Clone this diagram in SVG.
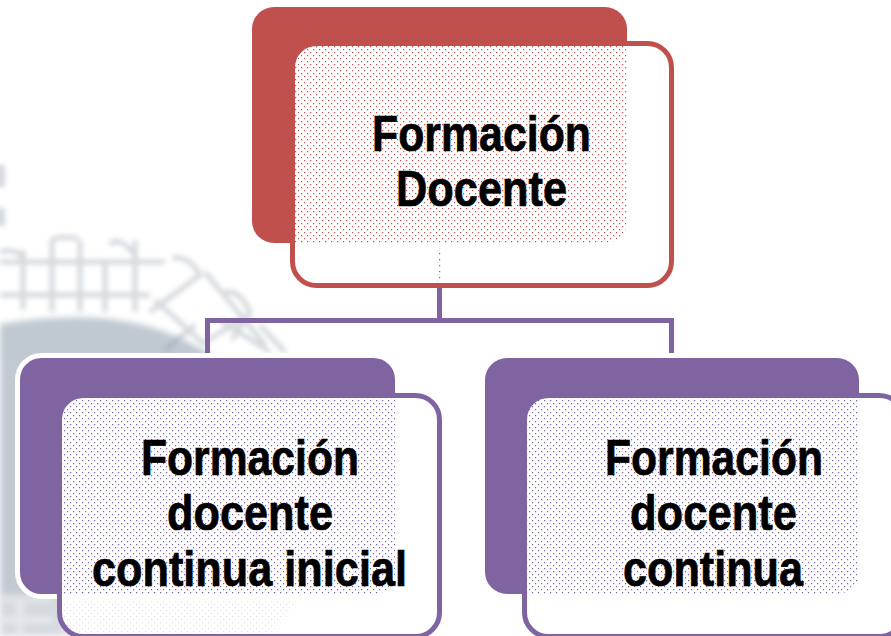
<svg xmlns="http://www.w3.org/2000/svg" width="891" height="636" viewBox="0 0 891 636">
  <style>
    .back-red{fill:#C0504D}
    .back-pur{fill:#8064A2}
    .face{fill:url(#holes)}
    .frame{fill:none;stroke-width:5}
    .red{stroke:#C0504D}
    .pur{stroke:#8064A2}
    .conn{fill:none;stroke:#8064A2;stroke-width:5;stroke-linecap:butt;stroke-linejoin:miter}
    text{font-family:"Liberation Sans Narrow","Liberation Sans",Arial,sans-serif;font-weight:700;font-size:50px;fill:#000;stroke:#000;stroke-width:0.7}
    .wm{fill:none;stroke:#9aa3ad;stroke-width:5}
  </style>
  <defs>
    <pattern id="holes" width="6" height="6" patternUnits="userSpaceOnUse">
      <path fill="#fff" fill-rule="evenodd" d="M0 0H6V6H0Z M1 1H2.2V2.2H1Z M4 4H5.2V5.2H4Z"/>
    </pattern>
    <filter id="blur" x="-10%" y="-10%" width="120%" height="120%"><feGaussianBlur stdDeviation="3"/></filter>
    <filter id="blur2" x="-10%" y="-10%" width="120%" height="120%"><feGaussianBlur stdDeviation="2.6"/></filter>
  </defs>
  <rect width="891" height="636" fill="#fff"/>
  <g id="watermark">
    <g filter="url(#blur)">
      <path d="M0 324 Q60 314 110 319 Q170 326 215 358 L215 400 L0 400Z" fill="#c0c9d1"/>
      <rect x="0" y="360" width="60" height="240" fill="#c2cad1"/>
      <rect x="0" y="598" width="60" height="38" fill="#d6dadf"/>
      <path d="M60 598H300L270 636H60Z" fill="#dfe2e5"/>
    </g>
    <g filter="url(#blur2)" opacity="0.42">
      <path class="wm" d="M0 262H165 M0 295H150"/>
      <path class="wm" d="M23 250V310 M52 240V312 M80 240V312 M105 262V312 M135 240V312"/>
      <path class="wm" d="M0 252Q12 248 22 256 M52 240Q54 236 78 238 M110 245Q118 234 135 255"/>
      <path class="wm" d="M172 258Q190 256 200 275 L150 312 M225 292Q240 290 250 312 L232 340 M205 272L265 345 M155 300L205 345 M195 325L165 350"/>
      <path class="wm" d="M220 320L270 352 M285 352L260 325 M205 342L240 320"/>
      <rect x="-4" y="165" width="9" height="22" fill="#9aa3ad"/>
      <rect x="-4" y="208" width="9" height="18" fill="#9aa3ad"/>
      <path d="M0 598H52 M0 620H52 M20 598V636" stroke="#f4f6f8" stroke-width="8" fill="none"/>
    </g>
  </g>
  <g id="connectors">
    <path class="conn" d="M439.5 248V320.5"/>
    <path class="conn" d="M207.5 353V320.5H671.5V353"/>
  </g>
  <g id="node-formacion-docente">
    <rect class="back-red" x="252" y="7" width="375" height="236" rx="22"/>
    <rect class="face" x="292.5" y="43.5" width="379" height="242" rx="24"/>
    <rect class="frame red" x="292.5" y="43.5" width="379" height="242" rx="24"/>
    <text x="372" y="151" textLength="219" lengthAdjust="spacingAndGlyphs">Formación</text>
    <text x="396" y="206" textLength="171" lengthAdjust="spacingAndGlyphs">Docente</text>
  </g>
  <g id="node-continua-inicial">
    <rect class="back-pur" x="17.5" y="355.5" width="380" height="241" rx="24" stroke="#fff" stroke-width="5"/>
    <rect class="face" x="59.5" y="395.5" width="380" height="241" rx="24"/>
    <rect class="frame pur" x="59.5" y="395.5" width="380" height="241" rx="24"/>
    <text x="141" y="475" textLength="218" lengthAdjust="spacingAndGlyphs">Formación</text>
    <text x="167" y="530" textLength="166" lengthAdjust="spacingAndGlyphs">docente</text>
    <text x="92" y="586" textLength="315" lengthAdjust="spacingAndGlyphs">continua inicial</text>
  </g>
  <g id="node-continua">
    <rect class="back-pur" x="485" y="358" width="374" height="236" rx="22"/>
    <rect class="face" x="524.5" y="395.5" width="379" height="241" rx="24"/>
    <rect class="frame pur" x="524.5" y="395.5" width="379" height="241" rx="24"/>
    <text x="605" y="475" textLength="218" lengthAdjust="spacingAndGlyphs">Formación</text>
    <text x="630" y="530" textLength="167" lengthAdjust="spacingAndGlyphs">docente</text>
    <text x="623" y="586" textLength="180" lengthAdjust="spacingAndGlyphs">continua</text>
  </g>
</svg>
